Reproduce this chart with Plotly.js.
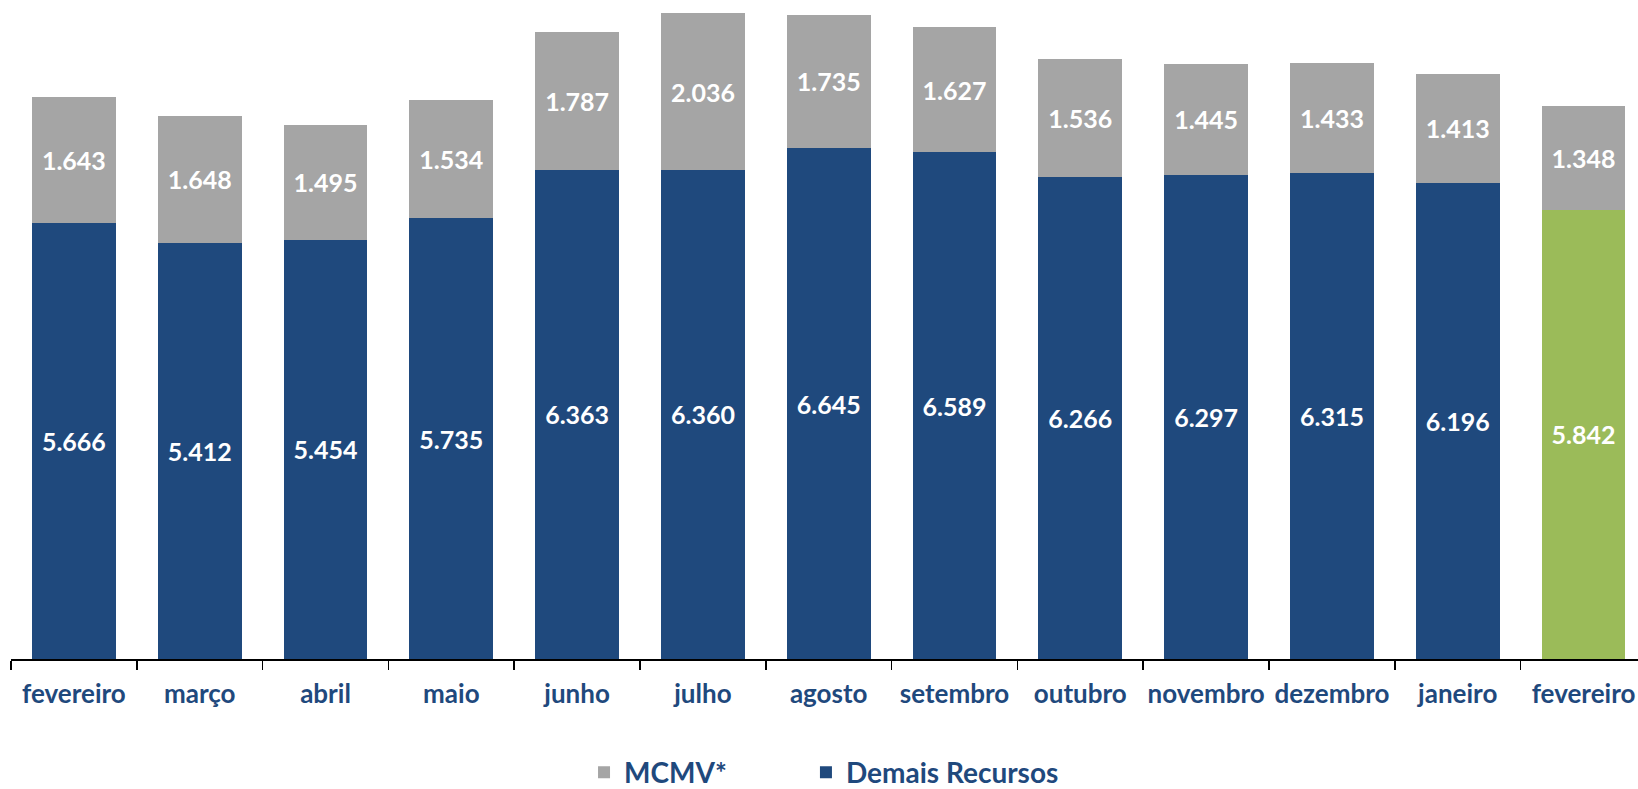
<!DOCTYPE html>
<html>
<head>
<meta charset="utf-8">
<script src="https://cdn.plot.ly/plotly-3.0.1.min.js"></script>
<style>html,body{margin:0;padding:0;background:#fff;}#chart{width:1638px;height:789px;}</style>
</head>
<body>
<div id="chart"></div>
<script>
// Categories (second "fevereiro" carries a zero-width space so it stays a separate category)
var months = ["fevereiro", "março", "abril", "maio", "junho", "julho", "agosto", "setembro", "outubro", "novembro", "dezembro", "janeiro", "fevereiro\u200B"];
var demaisRecursos = [5666, 5412, 5454, 5735, 6363, 6360, 6645, 6589, 6266, 6297, 6315, 6196, 5842];
var mcmv = [1643, 1648, 1495, 1534, 1787, 2036, 1735, 1627, 1536, 1445, 1433, 1413, 1348];

var BLUE = "#1F497D", GRAY = "#A5A5A5", GREEN = "#9BBB59";
var demaisColors = months.map(function (m, i) { return i === months.length - 1 ? GREEN : BLUE; });

var labelFont = {family: "Lato", size: 25, color: "#FFFFFF", weight: 700};
var legendFont = {family: "Lato", size: 28, color: BLUE, weight: 700};

var traces = [
  {
    type: "bar", name: "Demais Recursos", x: months, y: demaisRecursos,
    marker: {color: demaisColors, line: {width: 0}},
    texttemplate: "%{y:,.0f}", textposition: "inside", insidetextanchor: "middle",
    textangle: 0, textfont: labelFont, constraintext: "none", hoverinfo: "skip",
    legend: "legend2"
  },
  {
    type: "bar", name: "MCMV*", x: months, y: mcmv,
    marker: {color: GRAY, line: {width: 0}},
    texttemplate: "%{y:,.0f}", textposition: "inside", insidetextanchor: "middle",
    textangle: 0, textfont: labelFont, constraintext: "none", hoverinfo: "skip",
    legend: "legend"
  }
];

var layout = {
  width: 1638, height: 789,
  margin: {l: 11, r: 0, t: 0, b: 130, pad: 0},
  paper_bgcolor: "#FFFFFF", plot_bgcolor: "#FFFFFF",
  barmode: "stack", bargap: 0.333,
  separators: ",.",
  font: {family: "Lato", color: BLUE},
  xaxis: {
    type: "category", range: [-0.5, 12.433], fixedrange: true,
    showline: true, linecolor: "#000000", linewidth: 1.5,
    ticks: "outside", tickson: "boundaries", ticklen: 9, tickwidth: 1.5, tickcolor: "#000000",
    tickfont: {family: "Lato", size: 26, color: BLUE, weight: 700},
    tickangle: 0,
    ticklabelstandoff: 11,
    showgrid: false, zeroline: false
  },
  yaxis: {
    range: [0, 8570], visible: false, showgrid: false, zeroline: false, fixedrange: true
  },
  showlegend: true,
  legend: {
    orientation: "h",
    x: 0.3522, xanchor: "left", xref: "paper",
    y: 0.021, yanchor: "middle", yref: "container",
    font: legendFont, bgcolor: "rgba(0,0,0,0)", borderwidth: 0
  },
  legend2: {
    orientation: "h",
    x: 0.4886, xanchor: "left", xref: "paper",
    y: 0.021, yanchor: "middle", yref: "container",
    font: legendFont, bgcolor: "rgba(0,0,0,0)", borderwidth: 0
  }
};

Plotly.newPlot("chart", traces, layout, {displayModeBar: false, staticPlot: true});
</script>
</body>
</html>
